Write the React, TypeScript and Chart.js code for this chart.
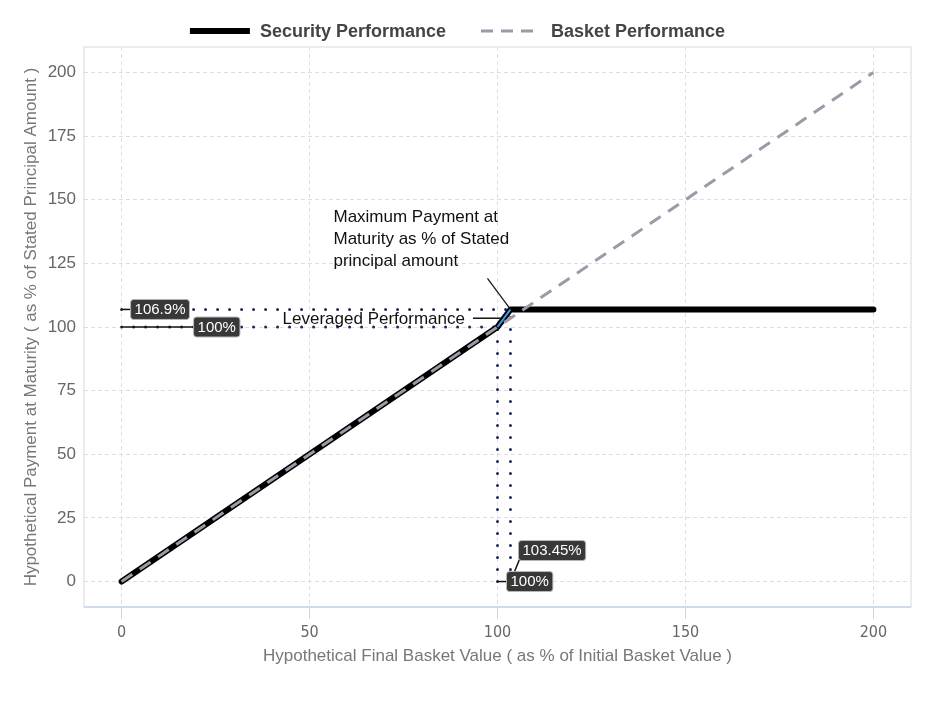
import React, { useEffect, useRef } from 'react';
import { Chart, registerables } from 'chart.js';

Chart.register(...registerables);

// ---------- data ----------
const securityX = [0, 100, 103.45, 200];
const securityY = [0, 100, 106.9, 106.9];
const basketX = [0, 200];
const basketY = [0, 200];
const parLevel = 100;
const capX = 103.45;
const capLevel = 106.9;
const xTickValues = [0, 50, 100, 150, 200];
const yTickValues = [0, 25, 50, 75, 100, 125, 150, 175, 200];
const axisMin = -10;
const axisMax = 210;
const seriesNames = ['Security Performance', 'Basket Performance'];
const maxPaymentNote = ['Maximum Payment at', 'Maturity as % of Stated', 'principal amount'];
const leverageNote = 'Leveraged Performance';
const xTitle = 'Hypothetical Final Basket Value ( as % of Initial Basket Value )';
const yTitle = 'Hypothetical Payment at Maturity ( as % of Stated Principal Amount )';

const FONT = '"Liberation Sans", Arial, sans-serif';
const NARROW = '"Liberation Sans Narrow", "DejaVu Sans Condensed", "Liberation Sans", sans-serif';

const pts = (xs: number[], ys: number[]) => xs.map((x, i) => ({ x, y: ys[i] }));

function roundRect(ctx: CanvasRenderingContext2D, x: number, y: number, w: number, h: number, r: number) {
  ctx.beginPath();
  ctx.moveTo(x + r, y);
  ctx.lineTo(x + w - r, y);
  ctx.quadraticCurveTo(x + w, y, x + w, y + r);
  ctx.lineTo(x + w, y + h - r);
  ctx.quadraticCurveTo(x + w, y + h, x + w - r, y + h);
  ctx.lineTo(x + r, y + h);
  ctx.quadraticCurveTo(x, y + h, x, y + h - r);
  ctx.lineTo(x, y + r);
  ctx.quadraticCurveTo(x, y, x + r, y);
  ctx.closePath();
}

function drawTag(ctx: CanvasRenderingContext2D, text: string, left: number, cy: number) {
  ctx.font = `15px ${FONT}`;
  const w = ctx.measureText(text).width + 8;
  const h = 20;
  roundRect(ctx, left, cy - h / 2, w, h, 3);
  ctx.fillStyle = '#383838';
  ctx.fill();
  ctx.lineWidth = 1;
  ctx.strokeStyle = '#b8b8b8';
  ctx.stroke();
  ctx.fillStyle = '#ffffff';
  ctx.textAlign = 'left';
  ctx.textBaseline = 'middle';
  ctx.fillText(text, left + 4, cy + 0.5);
  return { w, h };
}

function line(ctx: CanvasRenderingContext2D, x1: number, y1: number, x2: number, y2: number, w = 1.5, color = '#111') {
  ctx.beginPath();
  ctx.setLineDash([]);
  ctx.lineWidth = w;
  ctx.strokeStyle = color;
  ctx.moveTo(x1, y1);
  ctx.lineTo(x2, y2);
  ctx.stroke();
}

const framePlugin = {
  id: 'frame',
  beforeDatasetsDraw(chart: any) {
    const { ctx, chartArea: a } = chart;
    ctx.save();
    ctx.setLineDash([]);
    ctx.lineWidth = 1;
    ctx.strokeStyle = '#d9d9d9';
    ctx.strokeRect(a.left, a.top, a.right - a.left, a.bottom - a.top);
    line(ctx, a.left, a.bottom, a.right, a.bottom, 1.5, '#c8d4e8');
    ctx.restore();
  },
};

const legendPlugin = {
  id: 'customLegend',
  afterDraw(chart: any) {
    const { ctx } = chart;
    const items = seriesNames
      .map((n) => chart.data.datasets.find((d: any) => d.label === n))
      .filter(Boolean);
    ctx.save();
    ctx.font = `bold 18px ${FONT}`;
    const sampleW = 60;
    const gapS = 10;
    const gapI = 35;
    const widths = items.map((d: any) => sampleW + gapS + ctx.measureText(d.label).width);
    const total = widths.reduce((s: number, v: number) => s + v, 0) + gapI * (items.length - 1);
    let x = chart.width / 2 - 11 - total / 2;
    const y = 31;
    items.forEach((d: any, i: number) => {
      ctx.beginPath();
      ctx.setLineDash(d.legendDash || []);
      ctx.lineCap = 'butt';
      ctx.lineWidth = d.legendWidth;
      ctx.strokeStyle = d.borderColor;
      ctx.moveTo(x, y);
      ctx.lineTo(x + sampleW, y);
      ctx.stroke();
      ctx.setLineDash([]);
      ctx.fillStyle = '#444444';
      ctx.textAlign = 'left';
      ctx.textBaseline = 'middle';
      ctx.fillText(d.label, x + sampleW + gapS, y + 1);
      x += widths[i] + gapI;
    });
    ctx.restore();
  },
};

const annotationPlugin = {
  id: 'notes',
  afterDatasetsDraw(chart: any) {
    const { ctx } = chart;
    const sx = chart.scales.x;
    const sy = chart.scales.y;
    const px = (v: number) => sx.getPixelForValue(v);
    const py = (v: number) => sy.getPixelForValue(v);
    ctx.save();

    // Maximum payment note
    const cx = px(capX);
    const cy = py(capLevel);
    line(ctx, cx - 23, cy - 31, cx, cy, 1.2, '#111');
    ctx.font = `17px ${FONT}`;
    ctx.fillStyle = '#111';
    ctx.textAlign = 'left';
    ctx.textBaseline = 'middle';
    maxPaymentNote.forEach((t, i) => ctx.fillText(t, cx - 177, cy - 92 + i * 22));

    // Leveraged performance note
    const mx = px((parLevel + capX) / 2);
    const my = py((parLevel + capLevel) / 2);
    line(ctx, mx - 31, my, mx - 1, my, 1.5, '#111');
    ctx.textAlign = 'right';
    ctx.fillStyle = '#111';
    ctx.fillText(leverageNote, mx - 39, my + 1);

    // value tags on y axis
    const x0 = px(0);
    const y0 = py(0);
    line(ctx, x0, py(capLevel), x0 + 9, py(capLevel), 1.5);
    line(ctx, x0, py(parLevel), x0 + 72, py(parLevel), 1.5);
    drawTag(ctx, `${capLevel}%`, x0 + 9, py(capLevel));
    drawTag(ctx, `${parLevel}%`, x0 + 72, py(parLevel));

    // value tags on x axis
    line(ctx, px(capX), y0, px(capX) + 9, y0 - 22, 1.5);
    line(ctx, px(parLevel), y0, px(parLevel) + 9, y0, 1.5);
    drawTag(ctx, `${parLevel}%`, px(parLevel) + 9, y0);
    drawTag(ctx, `${capX}%`, px(capX) + 8, y0 - 31);

    ctx.restore();
  },
};

export default function App() {
  const ref = useRef<HTMLCanvasElement | null>(null);

  useEffect(() => {
    document.body.style.margin = '0';
    const canvas = ref.current;
    if (!canvas) return;
    const navy = '#1c2b5e';
    const dotted = (data: { x: number; y: number }[]) => ({
      label: 'ref',
      data,
      borderColor: navy,
      borderWidth: 3,
      borderDash: [0, 12],
      borderCapStyle: 'round',
      pointRadius: 0,
      fill: false,
      order: 5,
    });
    const chart = new Chart(canvas, {
      type: 'line',
      data: {
        datasets: [
          {
            label: seriesNames[1],
            data: pts(basketX, basketY),
            borderColor: '#9a9aa8',
            borderWidth: 3,
            borderDash: [13, 9],
            legendDash: [12, 8],
            legendWidth: 3,
            pointRadius: 0,
            fill: false,
            order: 0,
          } as any,
          {
            label: 'leveraged',
            data: pts([parLevel, capX], [parLevel, capLevel]),
            borderColor: '#3d9be9',
            borderWidth: 2,
            pointRadius: 0,
            fill: false,
            order: 1,
          },
          {
            label: seriesNames[0],
            data: pts(securityX, securityY),
            borderColor: '#000000',
            borderWidth: 6,
            legendWidth: 6,
            borderJoinStyle: 'round',
            borderCapStyle: 'round',
            pointRadius: 0,
            fill: false,
            order: 2,
          } as any,
          dotted(pts([0, capX], [capLevel, capLevel])),
          dotted(pts([0, parLevel], [parLevel, parLevel])),
          dotted(pts([parLevel, parLevel], [0, parLevel])),
          dotted(pts([capX, capX], [0, capLevel])),
        ],
      },
      options: {
        responsive: false,
        animation: false,
        layout: { padding: { top: 47, right: 26, bottom: 33, left: 0 } },
        plugins: {
          legend: { display: false },
          tooltip: { enabled: false },
        },
        scales: {
          x: {
            type: 'linear',
            min: axisMin,
            max: axisMax,
            afterBuildTicks: (s: any) => {
              s.ticks = xTickValues.map((v) => ({ value: v }));
            },
            afterFit: (s: any) => {
              s.height = 63;
            },
            grid: {
              color: '#dedede',
              lineWidth: 1,
              drawTicks: true,
              tickLength: 12,
              tickColor: '#c8d4e8',
              tickBorderDash: [],
            },
            border: { display: false, dash: [4, 3] },
            ticks: {
              color: '#666666',
              padding: 4,
              font: { family: NARROW, size: 16 },
              maxRotation: 0,
            },
            title: {
              display: true,
              text: xTitle,
              color: '#777777',
              font: { family: FONT, size: 17 },
              padding: { top: 4, bottom: 3 },
            },
          },
          y: {
            type: 'linear',
            min: axisMin,
            max: axisMax,
            afterBuildTicks: (s: any) => {
              s.ticks = yTickValues.map((v) => ({ value: v }));
            },
            afterFit: (s: any) => {
              s.width = 84;
            },
            grid: {
              color: '#dedede',
              lineWidth: 1,
              drawTicks: false,
            },
            border: { display: false, dash: [4, 3] },
            ticks: {
              color: '#666666',
              padding: 8,
              font: { family: FONT, size: 17 },
            },
            title: {
              display: true,
              text: yTitle,
              color: '#777777',
              font: { family: FONT, size: 17 },
              padding: { top: 21, bottom: 4 },
            },
          },
        },
      } as any,
      plugins: [framePlugin, annotationPlugin, legendPlugin],
    });
    return () => chart.destroy();
  }, []);

  return (
    <div style={{ width: 937, height: 703, overflow: 'hidden', background: '#fff' }}>
      <canvas ref={ref} width={937} height={703} />
    </div>
  );
}
